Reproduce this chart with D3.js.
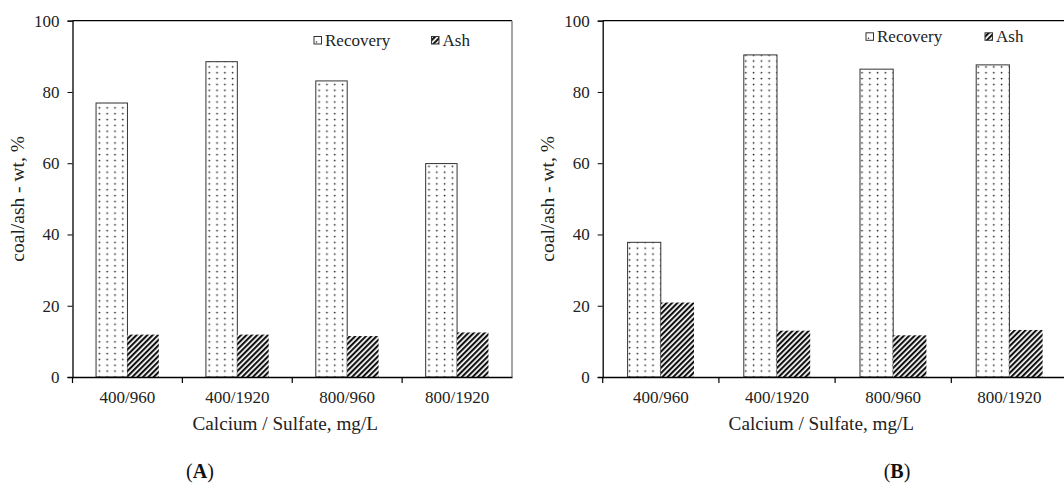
<!DOCTYPE html>
<html>
<head>
<meta charset="utf-8">
<script src="https://cdn.jsdelivr.net/npm/d3@7"></script>
<style>
  body { margin: 0; background: #fff; }
  svg { display: block; }
  svg text { font-family: "Liberation Serif", "Times New Roman", serif; }
</style>
</head>
<body>
<script>
// values
var categories = ["400/960", "400/1920", "800/960", "800/1920"];
var seriesNames = ["Recovery", "Ash"];
var recoveryA = [76.9, 88.5, 83.1, 59.9];
var ashA = [11.9, 11.9, 11.5, 12.5];
var recoveryB = [37.8, 90.4, 86.4, 87.6];
var ashB = [20.9, 13.0, 11.7, 13.2];
var yTicks = [0, 20, 40, 60, 80, 100];

var w = 1064, h = 489;
var serif = "'Liberation Serif', 'Times New Roman', serif";
var svg = d3.select("body").append("svg").attr("width", w).attr("height", h);

// fill patterns
var defs = svg.append("defs");
var dots = defs.append("pattern")
    .attr("id", "dots")
    .attr("patternUnits", "userSpaceOnUse")
    .attr("width", 7.8).attr("height", 5.85);
dots.append("rect").attr("width", 7.8).attr("height", 5.85).attr("fill", "#fff");
dots.append("circle").attr("cx", 3.5).attr("cy", 2.5).attr("r", 0.9).attr("fill", "#222");

var hatch = defs.append("pattern")
    .attr("id", "hatch")
    .attr("patternUnits", "userSpaceOnUse")
    .attr("width", 3.8).attr("height", 3.8)
    .attr("patternTransform", "rotate(45)");
hatch.append("rect").attr("width", 3.8).attr("height", 3.8).attr("fill", "#fff");
hatch.append("rect").attr("width", 2.1).attr("height", 3.8).attr("fill", "#111");

var fills = { "Recovery": "url(#dots)", "Ash": "url(#hatch)" };

function drawPanel(opts, recovery, ash) {
    var g = svg.append("g");
    var x0 = d3.scaleBand().domain(categories).range([opts.left, opts.right]);
    var bw = x0.bandwidth();
    var gap = bw * 1.5 / 3.5;
    var x1 = d3.scaleBand().domain(seriesNames).range([gap / 2, bw - gap / 2]);
    var y = d3.scaleLinear().domain([0, 100]).range([opts.bottom, opts.top]);

    var rows = categories.map(function (c, i) {
        return { cat: c, Recovery: recovery[i], Ash: ash[i] };
    });

    // plot area border (top, right)
    g.append("line")
        .attr("x1", opts.left).attr("x2", opts.right)
        .attr("y1", y(100)).attr("y2", y(100))
        .attr("stroke", "#000").attr("stroke-width", 1.2);
    g.append("line")
        .attr("x1", opts.right).attr("x2", opts.right)
        .attr("y1", y(100)).attr("y2", y(0))
        .attr("stroke", "#888").attr("stroke-width", 1.5);

    var groups = g.selectAll("g.cat")
        .data(rows)
        .enter().append("g")
        .attr("class", "cat")
        .attr("transform", function (d) { return "translate(" + x0(d.cat) + ",0)"; });

    groups.selectAll("rect")
        .data(function (d) { return seriesNames.map(function (s) { return { s: s, v: d[s] }; }); })
        .enter().append("rect")
        .attr("x", function (d) { return x1(d.s); })
        .attr("y", function (d) { return y(d.v); })
        .attr("width", x1.bandwidth())
        .attr("height", function (d) { return y(0) - y(d.v); })
        .attr("fill", function (d) { return fills[d.s]; })
        .attr("stroke", function (d) { return d.s == "Recovery" ? "#333" : "none"; })
        .attr("stroke-width", 1);

    // axes
    var yAxis = d3.axisLeft(y).tickValues(yTicks).tickSize(5).tickPadding(8);
    var ya = g.append("g").attr("transform", "translate(" + opts.left + ",0)").call(yAxis);
    ya.select(".domain").attr("stroke", "#000").attr("stroke-width", 1.3);
    ya.selectAll(".tick text").attr("fill", "#222")
        .style("font-family", serif).style("font-size", "17px");

    var xAxis = d3.axisBottom(x0).tickSize(0).tickPadding(14);
    var xa = g.append("g").attr("transform", "translate(0," + opts.bottom + ")").call(xAxis);
    xa.select(".domain").attr("stroke", "#000").attr("stroke-width", 1.3);
    xa.selectAll(".tick text").attr("fill", "#222")
        .style("font-family", serif).style("font-size", "17px");
    // category separator ticks
    xa.selectAll("line.sep")
        .data(categories)
        .enter().append("line")
        .attr("class", "sep")
        .attr("x1", function (d) { return x0(d); }).attr("x2", function (d) { return x0(d); })
        .attr("y1", 0).attr("y2", 6)
        .attr("stroke", "#000").attr("stroke-width", 1.2);

    // axis titles
    g.append("text")
        .attr("x", (opts.left + opts.xTitleRight) / 2)
        .attr("y", opts.bottom + 53)
        .attr("text-anchor", "middle")
        .style("font-size", "19.2px").attr("fill", "#222")
        .text("Calcium / Sulfate, mg/L");
    g.append("text")
        .attr("transform", "translate(" + opts.yTitleX + "," + (opts.top + opts.bottom) / 2 + ") rotate(-90)")
        .attr("text-anchor", "middle")
        .style("font-size", "19.5px").attr("fill", "#222")
        .text("coal/ash - wt, %");

    // legend
    var lg = g.append("g").attr("transform", "translate(0," + opts.legendY + ")");
    seriesNames.forEach(function (s, i) {
        var lx = opts.legendX[i];
        lg.append("rect")
            .attr("x", lx).attr("y", -4).attr("width", 7.5).attr("height", 7.5)
            .attr("fill", s == "Recovery" ? "#fff" : fills[s])
            .attr("stroke", "#333").attr("stroke-width", 1);
        if (s == "Recovery") {
            lg.append("circle").attr("cx", lx + 2.5).attr("cy", 1.5).attr("r", 0.8).attr("fill", "#333");
        }
        lg.append("text")
            .attr("x", lx + 11).attr("y", 5.5)
            .style("font-size", "17px").attr("fill", "#222")
            .text(s);
    });

    // panel label
    var lab = g.append("text")
        .attr("x", opts.labelX).attr("y", 478)
        .attr("text-anchor", "middle")
        .style("font-size", "20px").attr("fill", "#111");
    lab.append("tspan").text("(");
    lab.append("tspan").style("font-weight", "bold").text(opts.label);
    lab.append("tspan").text(")");
}

drawPanel({ left: 72.5, right: 512, top: 20.7, bottom: 377, xTitleRight: 498, yTitleX: 24,
    legendX: [314, 431.5], legendY: 40.5, label: "A", labelX: 200 }, recoveryA, ashA);
drawPanel({ left: 602.7, right: 1067.5, top: 20.7, bottom: 377, xTitleRight: 1040, yTitleX: 554,
    legendX: [866, 985], legendY: 36.8, label: "B", labelX: 897 }, recoveryB, ashB);
</script>
</body>
</html>
